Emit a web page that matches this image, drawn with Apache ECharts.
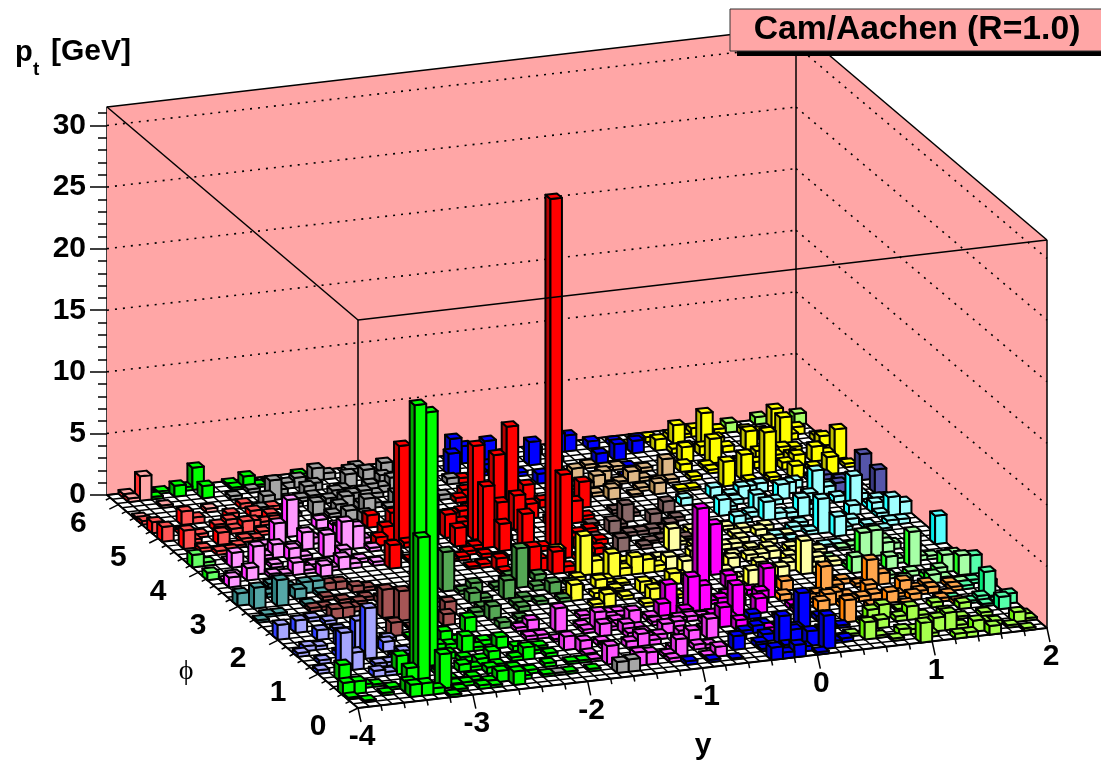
<!DOCTYPE html>
<html><head><meta charset="utf-8">
<style>html,body{margin:0;padding:0;background:#fff}#c{width:1101px;height:761px}</style>
<script src="https://cdn.jsdelivr.net/npm/echarts@6/dist/echarts.min.js"></script>
</head><body><div id="c"></div>
<script>
// each cell: [rapidity index, azimuth index read on a 63-step ruler, pt in GeV]
const yBinCount = 60, phiBinCount = 50, phiRuler = 63;
const yMin = -4, yMax = 2, phiMax = 6.2832, ptMax = 31.5;
const ptTicks = [0,5,10,15,20,25,30];
const yTickLabels = [-4,-3,-2,-1,0,1,2];
const phiTickLabels = [0,1,2,3,4,5,6];

const greenBars = [[5,1,1.0],[6,1,1.0],[7,1,.5],[7,5,11.7],[8,9,21.3],[9,9,20.6],[8,2,2.8],[13,11,1.3],[15,16,1.2],[12,14,1.1],[14,8,1.0],[16,11,.9],[17,7,1.0],[13,2,.9],[14,1,1.1],[6,8,1.5],[6,5,1.2],[5,3,.9],[1,7,1.3],[0,4,1],[1,4,1],[0,2,.15],[1,1,.15],[3,2,.2],[4,4,.2],[5,2,.3],[9,3,.3],[11,4,.3],[12,3,.2],[12,1,.2],[12,6,.3],[16,7,.3],[17,8,.3],[19,7,.3],[18,5,.3],[19,3,.2],[20,5,.2],[11,10,.5],[12,12,.4],[13,8,.5],[11,6,.6],[10,16,.2],[2,5,.3],[3,5,.2],[8,0,.2],[9,1,.2],[10,2,.3],[11,1,.3],[15,3,.3],[16,4,.3],[17,3,.2],[15,5,.3],[14,6,.3],[18,9,.3],[19,10,.2],[14,11,.3],[15,13,.4],[13,14,.3],[11,13,.5],[10,12,.3],[14,4,.3],[9,6,.3],[9,4,.4],[21,3,.2],[21,5,.2],[17,10,.4],[16,12,.3],[13,5,.5],[12,9,.4]];
const redBars = [[29,35,28.5],[29,33,6.8],[24,38,5.0],[24,40,7.6],[28,46,4.7],[30,49,6.1],[27,43,2.0],[25,36,2.2],[28,41,2.8],[27,36,2.8],[31,48,1.6],[30,44,1.2],[22,42,1.9],[22,39,1.5],[15,35,1.9],[17,43,1.1],[19,46,1.0],[17,46,1],[16,41,.7],[23,32,1],[25,29,2.4],[26,30,1],[27,29,1.8],[33,41,1.8],[35,45,2.1],[28,56,.4],[27,52,.6],[22,36,.3],[21,35,.3],[22,33,.3],[23,30,.3],[16,38,.5],[23,38,.3],[23,31,.3],[20,36,.3],[20,35,.2],[21,33,.2],[28,31,.4],[28,29,.5],[18,40,.4],[19,38,.3],[20,40,4],[18,41,7.9],[20,43,.3],[21,45,.4],[22,46,.3],[24,44,.4],[25,46,.5],[26,48,.3],[25,42,.5],[26,39,.4],[24,34,.3],[26,34,.5],[28,35,.4],[30,38,.5],[31,41,.6],[32,38,.4],[30,31,.4],[32,33,.5],[33,35,.4],[31,35,.8],[33,38,.6],[34,42,.5],[26,51,.4],[29,52,.5],[31,53,.4],[32,46,.6],[27,47,.4],[24,47,.4],[23,35,.3],[19,41,.3],[18,37,.3],[17,36,.2],[26,32,.4]];
const blueBackBars = [[28,58,1.7],[29,61,2.1],[30,60,1.4],[32,61,1.6],[35,58,1.9],[34,53,.8],[42,57,1.3],[40,55,1.1],[44,58,1],[39,60,1.3],[42,54,.2],[41,52,.2],[45,61,.4],[27,56,.3],[30,57,.3],[38,61,1.5],[33,59,.4],[36,60,.6],[37,58,.4],[31,58,.5],[41,60,.6],[43,60,.4],[46,60,.2],[33,56,.3],[36,55,.2]];
const tanBars = [[44,51,1.6],[42,47,.9],[38,47,.9],[41,50,.9],[38,50,.9],[37,53,.9],[39,52,.8],[40,46,.2],[44,49,.3],[39,49,.3],[37,48,.3],[43,53,.3],[40,54,.3],[36,51,.3],[37,50,.4],[39,55,.3],[41,54,.3],[42,51,.3],[43,49,.3],[41,48,.3],[36,54,.4],[35,50,.3],[40,51,.2]];
const yellowBackBars = [[49,53,2.0],[50,58,2.6],[52,48,3.6],[56,56,2.3],[57,60,1.5],[53,56,1.5],[50,48,2.0],[48,46,2],[48,59,1.5],[46,58,.9],[47,54,1.2],[46,52,.6],[59,50,2.4],[57,50,1.2],[57,46,1.4],[54,47,1],[50,60,.7],[55,50,.8],[55,49,1.1],[59,56,.5],[59,54,.8],[58,51,.6],[48,52,.3],[48,50,.3],[46,49,.3],[44,46,.2],[45,46,.2],[50,46,.3],[48,57,.5],[51,55,.5],[54,49,.6],[59,48,.3],[49,50,.4],[50,51,.6],[52,51,.5],[51,52,.4],[53,53,.6],[54,52,.5],[55,53,.7],[55,58,.6],[54,59,.5],[52,60,.4],[51,58,.5],[49,56,.7],[47,57,.4],[46,60,.4],[48,61,.4],[58,58,.6],[57,57,.5],[58,53,.4],[56,53,.6],[56,48,.4],[53,50,.4],[52,46,.3],[59,52,.4],[49,61,.3],[44,59,.4]];
const limeBackBars = [[59,60,.9],[53,61,.8],[56,62,.6],[46,61,.3]];
const indigoBars = [[59,40,1.9],[59,44,2.1],[56,42,.8],[56,45,.4],[55,45,.3],[57,44,.3]];
const paleCyanBars = [[51,32,2.8],[54,42,2],[56,38,2.4],[52,30,1.6],[51,37,1.5],[46,44,.8],[45,39,1.3],[45,35,1],[48,39,1.4],[48,37,1.5],[48,43,1],[51,42,1.2],[43,43,.6],[55,35,.8],[52,43,.9],[57,35,.8],[58,34,1.5],[59,34,1],[57,32,.4],[58,31,.4],[57,34,.3],[51,28,.2],[47,31,.3],[50,28,.2],[49,33,.4],[47,38,.4],[52,37,.5],[46,40,.3],[47,41,.4],[49,41,.5],[50,40,.4],[50,36,.4],[49,36,.5],[50,34,.3],[53,34,.4],[53,31,.3],[54,33,.5],[53,40,.6],[52,39,.4],[55,41,.6],[55,39,.5],[57,39,.5],[58,38,.4],[59,36,.3],[57,37,.4],[47,43,.5],[49,44,.6],[50,44,.7],[53,44,.6],[46,36,.3],[54,29,.3],[55,31,.3],[56,30,.2],[48,30,.2],[50,31,.3]];
const cyanBars = [[59,25,2.3]];
const paleYellowBars = [[38,31,1.8],[46,22,2.7],[41,20,1.2],[47,21,.5],[44,21,.8],[41,25,.8],[44,33,.4],[42,28,.3],[44,26,.5],[45,26,.6],[36,26,1.1],[37,25,1],[39,29,.6],[42,30,.4],[46,30,.4],[45,34,.4],[42,33,.8],[45,28,.6],[47,34,.4],[44,32,.4],[38,27,.4],[39,26,.3],[40,24,.3],[40,28,.5],[41,30,.3],[43,24,.6],[43,27,.5],[43,30,.4],[42,22,.3],[46,25,.5],[47,26,.4],[47,28,.4],[46,33,.5],[48,31,.3],[48,24,.5],[44,29,.3],[40,32,.3],[41,35,.4],[39,33,.3],[38,24,.3],[37,28,.3],[36,29,.4],[44,35,.3],[40,22,.4],[49,26,.3],[49,23,.4],[45,23,.7],[43,35,.3]];
const yellowBars = [[29,28,3.2],[31,27,1.9],[30,28,1.1],[28,32,1.2],[33,26,1.4],[34,26,1.1],[32,27,.6],[26,21,1.3],[28,19,1.0],[29,24,.7],[32,19,1.0],[32,22,.9],[35,23,.9],[31,24,.2],[26,23,.2],[30,20,.3],[36,24,.3],[27,24,.3],[28,26,.3],[33,23,.3],[34,21,.3],[30,23,.2],[30,25,.3],[35,27,.5],[36,22,.3],[29,21,.3],[31,18,.3],[34,19,.3],[27,19,.3],[28,22,.4],[33,29,.4],[30,31,.3]];
const magentaBars = [[37,22,6.3],[39,24,4.1],[35,15,2.0],[34,15,2.8],[32,15,2.4],[31,14,1.3],[37,12,2.5],[41,16,2.4],[39,20,1],[39,12,1.2],[40,15,1],[33,18,.5],[35,10,1.6],[36,9,.8],[33,14,.6],[36,13,.5],[38,15,.6],[37,16,.4],[36,17,.3],[38,18,.3],[40,18,.4],[42,13,.4],[35,12,.4],[34,11,.4],[36,11,.4],[40,10,.3],[38,7,.3],[42,11,.3]];
const pinkBars = [[33,7,1.6],[29,4,1.4],[31,6,1.2],[32,3,.8],[23,4,1.5],[25,3,1.1],[26,3,1],[28,13,1.4],[25,11,1],[25,13,1.6],[22,14,1.9],[21,9,1.1],[20,15,.8],[22,8,1],[27,7,1],[30,10,.8],[31,10,.9],[19,13,.3],[20,12,.3],[21,11,.2],[19,15,.3],[22,6,.2],[22,5,.2],[28,17,.3],[28,15,.3],[28,9,.3],[29,9,.4],[31,12,.3],[30,14,.4],[28,3,.3],[31,3,.2],[30,6,.3],[28,11,.4],[26,12,.3],[24,9,.4],[27,15,.3],[33,9,.5],[34,13,.3],[32,12,.4],[33,12,.4],[25,17,.3],[27,17,.3],[28,16,.3],[27,14,.4],[28,12,.3],[28,10,.4],[31,14,.4],[30,12,.3],[31,11,.4],[31,9,.5],[31,5,.4],[32,5,.3],[22,9,.3],[24,12,.3],[24,14,.3],[22,6,.3],[24,8,.3],[27,10,.4],[26,8,.5],[28,4,.3],[29,5,.4],[28,8,.4],[27,11,.8]];
const blueFrontBars = [[34,4,1.1],[38,4,2.3],[41,8,2.8],[39,4,1.1],[40,2,1.2],[36,0,1],[38,0,1],[37,0,.5],[38,9,.3],[38,11,.4],[37,7,.6],[37,5,.6],[36,4,.4],[36,2,.2],[29,1,.3],[31,1,.2],[33,1,.1],[41,1,2.7],[44,6,.2],[43,2,.3],[43,9,.4],[35,6,.3],[39,7,.3],[40,6,.5],[42,5,.5],[41,4,.4],[39,1,.4],[40,0,.2],[36,7,.3],[38,2,.3],[42,3,.2]];
const orangeBars = [[50,16,2.1],[49,14,.9],[46,17,2],[45,8,1.8],[51,16,.9],[52,14,.9],[50,11,.9],[54,14,.5],[54,12,.5],[52,11,.5],[56,14,.3],[56,12,.3],[55,9,.3],[54,10,.3],[44,11,.8],[46,14,.6],[47,16,.4],[48,18,.4],[49,12,.5],[48,13,.4],[45,12,.9],[42,15,.5],[43,18,.8],[47,12,.3],[47,14,.3],[50,13,.3],[51,10,.2],[53,12,.3],[45,15,.3],[44,14,.3],[46,11,.4],[48,10,.4],[51,13,.3],[53,14,.2],[55,11,.2],[49,17,.3]];
const limeBars = [[45,3,1.4],[49,0,1.6],[52,2,1.4],[48,8,1.1],[50,6,1.1],[47,8,.8],[58,3,.8],[55,0,.7],[54,1,.9],[51,3,1.1],[52,0,.4],[53,0,.4],[53,9,.4],[55,7,.5],[55,3,.4],[47,5,.7],[48,2,.5],[48,3,.3],[44,4,.2],[59,4,.2],[59,2,.2],[49,2,.4],[58,0,.2],[46,2,.2],[46,6,.3],[50,1,.3],[50,9,.2],[52,5,.3],[53,6,.4],[56,5,.3],[56,2,.3],[57,1,.2],[51,6,.3],[53,3,.3],[49,6,.4],[47,1,.2],[54,5,.2]];
const seaGreenBars = [[58,10,2],[59,16,1.5],[58,6,1],[59,8,.8],[57,9,.5],[58,14,.3],[57,7,.2],[59,13,.5],[57,12,.3],[56,9,.2],[55,10,.2],[58,8,.3]];
const paleGreenBars = [[52,24,2],[53,24,2.1],[55,20,2.8],[57,18,1.4],[58,16,1.6],[50,20,1.3],[53,20,1],[56,17,.8],[55,15,.7],[54,24,1],[55,25,.5],[52,27,.3],[50,22,.3],[54,18,.4],[56,15,.4],[57,14,.3],[49,24,.3],[51,23,.3],[51,26,.2],[53,17,.3],[54,22,.4],[55,17,.4],[56,21,.4],[57,22,.3],[58,20,.3],[59,22,.3],[52,18,.3],[50,17,.2],[53,27,.3],[58,18,.3],[55,28,.2]];
const grayBars = [[23,60,.8],[22,55,1.1],[18,50,1.2],[19,58,1],[21,59,.8],[21,52,1],[20,56,.8],[17,53,.8],[27,55,.5],[12,57,1.6],[15,57,.8],[14,52,1],[17,60,1],[16,49,.8],[17,48,.8],[11,56,.8],[15,59,.8],[13,61,.4],[18,57,.3],[15,50,.3],[9,58,.3],[14,55,.3],[10,54,.3],[12,52,.3],[13,54,.3],[16,54,.4],[18,54,.6],[19,52,.4],[20,50,.3],[22,52,.5],[23,56,.5],[24,58,.6],[25,60,.4],[18,61,.5],[20,61,.6],[21,62,.4],[24,61,.3],[14,59,.5],[16,58,.6],[13,58,.4],[11,59,.3],[17,55,.6],[19,54,.7],[21,55,.5],[15,55,.4],[16,52,.6],[18,52,.5],[20,54,.4],[22,58,.6],[25,57,.4],[26,59,.4],[24,54,.5],[25,52,.4],[19,2,.2],[21,2,.2],[23,1,.9],[24,1,1],[18,2,.2]];
const greenBackBars = [[7,62,1.8],[7,59,1],[5,60,.9],[11,60,1],[6,62,.3],[4,62,.2],[3,60,.2],[10,62,.2],[10,60,.2],[12,60,.2],[16,62,.3]];
const lightGreenBars = [[0,41,1],[0,38,.6],[1,42,.3]];
const salmonBars = [[3,53,1.1],[1,47,1.5],[0,49,1.2],[0,52,.9],[7,49,.9],[4,47,1],[6,51,.8],[9,53,.5],[10,52,.5],[5,51,.5],[11,54,.3],[2,45,.3],[3,44,.3],[4,44,.3],[6,47,.3],[9,55,.4],[7,53,.5],[4,53,.5],[0,54,.3],[2,51,.3],[3,49,.3],[5,49,.3],[6,49,.4],[8,51,.5],[8,48,.3],[9,50,.3],[10,50,.3],[2,48,.3],[5,45,.2],[7,46,.2],[11,51,.4],[12,53,.4],[7,51,.5]];
const paleSalmonBars = [[1,62,.3],[1,60,.3],[3,58,.2],[0,56,.2],[6,55,.3],[2,60,2]];
const palePinkBars = [[10,46,3],[8,44,2],[4,38,2.3],[3,40,1.2],[3,36,1],[1,35,.8],[11,40,1.8],[13,41,2.3],[14,41,1.8],[11,37,1],[10,43,1.4],[7,41,1.1],[8,40,1],[7,37,1],[9,35,.9],[13,48,.7],[9,40,.3],[3,42,.2],[1,37,.2],[6,39,.3],[5,37,.3],[9,38,.3],[12,36,.4],[14,47,.5],[14,45,.7],[12,39,.8],[5,40,.3],[6,42,.3],[7,44,.4],[8,37,.3],[10,38,.3],[10,36,.3],[12,42,.4],[12,44,.4],[11,44,.5],[13,38,.3],[6,37,.2],[2,38,.2],[9,43,.4],[15,43,.4],[15,40,.3],[14,37,.3],[9,46,.3]];
const tealBars = [[1,29,1.7],[0,30,1],[3,29,2.1],[7,32,.9],[6,32,.9],[5,30,.8],[5,28,.3],[0,25,.2],[4,34,.3],[2,27,.2],[3,31,.3],[4,32,.4],[5,33,.3],[7,30,.3],[8,33,.2],[1,26,.2]];
const brownBars = [[11,22,2.4],[10,23,2.3],[9,18,1.1],[6,24,.8],[7,24,.8],[8,22,.8],[15,22,1.1],[14,19,.9],[14,25,1.5],[8,31,.6],[9,31,.6],[10,30,.5],[5,26,.3],[11,30,.3],[10,28,.3],[8,28,.3],[12,29,.3],[6,27,.3],[7,29,.3],[9,26,.4],[11,26,.5],[12,24,.4],[12,20,.3],[13,22,.4],[12,27,.3],[13,28,.2],[8,25,.4],[11,19,.2],[14,28,.3]];
const paleBlueBars = [[2,10,3.1],[5,12,4.1],[5,15,2.4],[3,10,1.4],[7,14,.8],[4,8,.5],[0,20,1.2],[2,21,1],[4,17,1.2],[3,19,.8],[4,24,.3],[5,23,.3],[5,7,.3],[5,20,.3],[8,13,.3],[0,15,.3],[1,17,.4],[2,17,.3],[3,14,.4],[6,18,.3],[6,16,.4],[7,11,.3],[8,16,.3],[1,12,.3],[0,10,.3],[4,12,.3],[5,10,.3],[6,10,.3]];
const mauveBars = [[41,42,.9],[39,39,.8],[37,40,1.4],[35,38,1],[34,33,1.1],[37,43,.3],[38,41,.3],[37,37,.3],[38,36,.4],[36,36,.3],[38,34,.3],[33,36,.3],[35,35,.3],[36,39,.3],[34,40,.2],[39,36,.3],[40,38,.3],[40,34,.2],[36,33,.3],[37,34,.2],[41,39,.3]];
const darkGreenBars = [[23,27,3.2],[21,24,1.5],[18,19,1.1],[25,24,.9],[19,27,.8],[18,24,.8],[17,28,3.2],[18,31,1],[25,28,.5],[21,20,.4],[18,22,.4],[18,17,.5],[17,20,.4],[18,27,.3],[21,27,.3],[23,29,.3],[24,25,.4],[25,22,.3],[22,23,.4],[21,22,.4],[19,24,.3],[27,25,.3],[20,18,.3],[23,21,.3],[15,25,.3]];

const WALL = '#ffa6a6', INK = '#000';
const FONT = '"Liberation Sans", Arial, sans-serif';
const shear = {phiX: 251, phiY: 213, yY: -80};
// [bars, colour of top and front face, colour of side face]
const groups = [
 [greenBars,'#00ff00','#00a800'],[redBars,'#ff0000','#b80000'],[blueBackBars,'#0000ff','#0000b0'],
 [tanBars,'#deb887','#b08a50'],[yellowBackBars,'#ffff00','#bdbd00'],[limeBackBars,'#a6ff66','#66dd22'],
 [indigoBars,'#5555aa','#3a3a80'],[paleCyanBars,'#a0ffff','#22ffff'],[cyanBars,'#55ffff','#00e8e8'],
 [paleYellowBars,'#ffffa6','#ffff33'],[yellowBars,'#ffff33','#e0e000'],[magentaBars,'#ff00ff','#b000b0'],
 [pinkBars,'#ff55ff','#d830d8'],[blueFrontBars,'#0000ff','#0000b0'],[orangeBars,'#ffa64d','#ff8000'],
 [limeBars,'#a6ff4d','#66ee00'],[seaGreenBars,'#55ffaa','#00e878'],[paleGreenBars,'#a6ffa6','#22ff22'],
 [grayBars,'#a6a6a6','#787878'],[greenBackBars,'#00ff00','#00a800'],[lightGreenBars,'#66ff66','#00dd00'],
 [salmonBars,'#ff5555','#ff0000'],[paleSalmonBars,'#ffa6a6','#ff3030'],[palePinkBars,'#ff99ff','#ff33ff'],
 [tealBars,'#55a6a6','#2f8080'],[brownBars,'#a65555','#7a3a3a'],[paleBlueBars,'#a6a6ff','#3040ff'],
 [mauveBars,'#8a6a6a','#664a4a'],[darkGreenBars,'#55a855','#357f35'],
];
const cellW = (yMax-yMin)/yBinCount, cellD = phiMax/phiBinCount;
const byCell = new Map();
groups.forEach((g,k)=>g[0].forEach(b=>{
  const ip=Math.round(b[1]*phiBinCount/phiRuler), key=b[0]+'_'+ip, old=byCell.get(key);
  if(!old||old[2]<b[2]) byCell.set(key,[yMin+b[0]*cellW, ip*cellD, b[2], k]);
}));
const table = Array.from(byCell.values());
table.sort((p,q)=> q[1]-p[1] || q[0]-p[0]);

const project = (api,y,phi,pt)=>{
  const c = api.coord([y,pt]), f = (phiMax-phi)/phiMax;
  return [c[0]+f*shear.phiX, c[1]+(y-yMin)/(yMax-yMin)*shear.yY+f*shear.phiY];
};
const seg = (p,q,w,dash)=>({type:'line',shape:{x1:p[0],y1:p[1],x2:q[0],y2:q[1]},style:{stroke:INK,lineWidth:w||1,lineDash:dash||null}});
const poly = (pts,fill,w,stroke)=>({type:'polygon',shape:{points:pts},style:{fill,stroke:stroke||INK,lineWidth:w,lineJoin:'round'}});
const label = (t,x,y,font,align)=>({type:'text',style:{text:String(t),x,y,font,align:align||'center',verticalAlign:'middle',fill:INK}});
const custom = (name,data,renderItem)=>({type:'custom',name,coordinateSystem:'cartesian2d',data,renderItem,silent:true,animation:false,clip:false,encode:{x:0,y:1}});

const wallSeries = custom('walls',[[yMin,0]],(p,api)=>{
  const P=(y,phi,pt)=>project(api,y,phi,pt), ch=[];
  ch.push(poly([P(yMin,phiMax,0),P(yMin,phiMax,ptMax),P(yMax,phiMax,ptMax),P(yMax,phiMax,0)],WALL,0,WALL));
  ch.push(poly([P(yMax,phiMax,0),P(yMax,phiMax,ptMax),P(yMax,0,ptMax),P(yMax,0,0)],WALL,0,WALL));
  ptTicks.slice(1).forEach(v=>{
    ch.push(seg(P(yMin,phiMax,v),P(yMax,phiMax,v),1.6,[2,6]));
    ch.push(seg(P(yMax,phiMax,v),P(yMax,0,v),1.6,[2,6]));
  });
  ch.push(seg(P(yMin,phiMax,ptMax),P(yMax,phiMax,ptMax),1.5));
  ch.push(seg(P(yMax,phiMax,ptMax),P(yMax,phiMax,0),1.5));
  ch.push(seg(P(yMax,phiMax,ptMax),P(yMax,0,ptMax),1.5));
  ch.push(seg(P(yMax,0,ptMax),P(yMax,0,0),1.5));
  ch.push(seg(P(yMin,phiMax,ptMax),P(yMin,0,ptMax),1.5));
  ch.push(seg(P(yMin,0,ptMax),P(yMin,0,0),1.5));
  return {type:'group',children:ch};
});
const floorSeries = custom('floor',[[yMin,0]],(p,api)=>{
  const P=(y,phi)=>project(api,y,phi,0), ch=[];
  ch.push(poly([P(yMin,0),P(yMax,0),P(yMax,phiMax),P(yMin,phiMax)],'#fff',1.8));
  for(let i=0;i<=yBinCount;i++){const y=yMin+i*cellW; ch.push(seg(P(y,0),P(y,phiMax),1.5));}
  for(let j=0;j<=phiBinCount;j++){const f=j*cellD; ch.push(seg(P(yMin,f),P(yMax,f),1.5));}
  return {type:'group',children:ch};
});
const barSeries = custom('bars',table,(p,api)=>{
  const y0=api.value(0),f0=api.value(1),h=api.value(2),k=api.value(3);
  const y1=y0+cellW,f1=f0+cellD,[,front,side]=groups[k];
  const P=(y,f,z)=>project(api,y,f,z);
  return {type:'group',children:[
    poly([P(y0,f0,0),P(y0,f1,0),P(y0,f1,h),P(y0,f0,h)],side,2),
    poly([P(y0,f0,0),P(y1,f0,0),P(y1,f0,h),P(y0,f0,h)],front,2),
    poly([P(y0,f0,h),P(y1,f0,h),P(y1,f1,h),P(y0,f1,h)],front,2),
  ]};
});
const overlaySeries = custom('axes',[[yMin,0]],(p,api)=>{
  const P=(y,phi,pt)=>project(api,y,phi,pt), ch=[];
  ch.push(seg(P(yMin,0,ptMax),P(yMax,0,ptMax),1.5));
  const big='bold 30px '+FONT;
  for(let i=0;i<=30;i++){
    const y=yMin+i*0.2,q=P(y,0,0),M=i%5===0;
    ch.push(seg(q,[q[0]+(M?3:1.2),q[1]+(M?14:5.5)],1.5));
  }
  for(let i=0;i<=31;i++){
    const f=i*0.2,q=P(yMin,f,0),M=i%5===0;
    ch.push(seg(q,[q[0]-(M?9:4.5),q[1]+(M?4.5:2.2)],1.5));
  }
  yTickLabels.forEach(v=>{const q=P(v,0,0);ch.push(label(v,q[0]+4,q[1]+29,big));});
  phiTickLabels.forEach(v=>{const q=P(yMin,v,0);ch.push(label(v,q[0]-40,q[1]+19,big));});
  return {type:'group',children:ch};
});

const chart = echarts.init(document.getElementById('c'),null,{renderer:'canvas'});
chart.setOption({
  animation:false,
  backgroundColor:'#fff',
  grid:{left:107,top:107,width:689,height:388,show:false},
  xAxis:{type:'value',min:yMin,max:yMax,show:false},
  yAxis:{type:'value',min:0,max:ptMax,interval:5,
    axisLine:{show:true,onZero:false,lineStyle:{color:INK,width:1.5}},
    axisTick:{show:true,length:17,customValues:ptTicks,lineStyle:{color:INK,width:1.5}},
    minorTick:{show:true,splitNumber:5,length:9,lineStyle:{color:INK,width:1.5}},
    splitLine:{show:false},minorSplitLine:{show:false},
    axisLabel:{customValues:ptTicks,margin:21,fontSize:30,fontWeight:'bold',fontFamily:FONT,color:INK}},
  series:[wallSeries,floorSeries,barSeries,overlaySeries],
  graphic:[
    {type:'rect',z:100,shape:{x:737,y:51,width:364,height:5},style:{fill:'#000'}},
    {type:'rect',z:101,shape:{x:730,y:9,width:372,height:42},style:{fill:WALL,stroke:'#333',lineWidth:1}},
    {type:'text',z:102,style:{text:'Cam/Aachen (R=1.0)',x:917,y:30,font:'bold 33.7px '+FONT,align:'center',verticalAlign:'middle',fill:INK}},
    {type:'text',z:102,style:{text:'p',x:15,y:53,font:'bold 29px '+FONT,align:'left',verticalAlign:'middle',fill:INK}},
    {type:'text',z:102,style:{text:'t',x:33,y:70,font:'bold 19px '+FONT,align:'left',verticalAlign:'middle',fill:INK}},
    {type:'text',z:102,style:{text:'[GeV]',x:51,y:52,font:'bold 30px '+FONT,align:'left',verticalAlign:'middle',fill:INK}},
    {type:'text',z:102,style:{text:'y',x:703,y:746,font:'bold 30px '+FONT,align:'center',verticalAlign:'middle',fill:INK}},
    {type:'text',z:102,style:{text:'\u03D5',x:186,y:672,font:'28px "Liberation Serif", "DejaVu Serif", serif',align:'center',verticalAlign:'middle',fill:INK}},
  ],
});
</script></body></html>
